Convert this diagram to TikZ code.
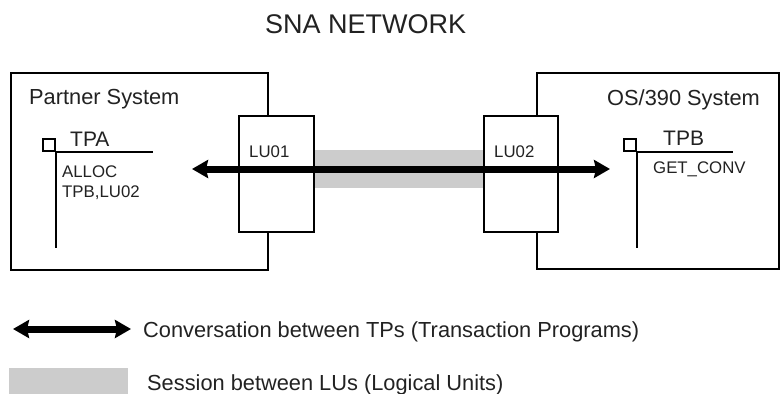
\documentclass[tikz,border=0pt]{standalone}
\usepackage{fontspec}
\setmainfont{Liberation Sans}
\usetikzlibrary{arrows.meta}
\definecolor{sessgray}{HTML}{CCCCCC}
\definecolor{txt}{HTML}{222222}
\begin{document}
\begin{tikzpicture}[x=1pt,y=-1pt,
  sysbox/.style={draw, line width=2pt, inner sep=0, anchor=north west, fill=white},
  lubox/.style={draw, line width=2pt, inner sep=0, anchor=north west, fill=white},
  lbl/.style={inner sep=0, anchor=base west, text=txt},
  big/.style={font=\fontsize{21.8}{24}\selectfont},
  small/.style={font=\fontsize{16.8}{18}\selectfont},
  tpline/.style={line width=2pt},
  conv/.style={line width=7pt, {Stealth[length=16pt,width=18pt,inset=2pt]}-{Stealth[length=16pt,width=18pt,inset=2pt]}},
  sess/.style={fill=sessgray}
]
\useasboundingbox (0,0) rectangle (780,394);

% title
\node[lbl, font=\fontsize{27}{30}\selectfont] (title) at (265,33) {SNA NETWORK};

% system boxes
\node[sysbox, minimum width=257pt, minimum height=197pt] (partner) at (10,72) {};
\node[sysbox, minimum width=242pt, minimum height=196pt] (os) at (536,72) {};

% session band
\fill[sess] (313,150) rectangle (483,188);

% LU boxes
\node[lubox, minimum width=75pt, minimum height=116pt] (lu01) at (238,115) {};
\node[lubox, minimum width=74pt, minimum height=116pt] (lu02) at (483,115) {};

% conversation arrow
\coordinate (tipL) at (192,169);
\coordinate (tipR) at (610,169);
\draw[conv] (tipL) -- (tipR);

% labels
\node[lbl, big] (pslbl) at (29,104) {Partner System};
\node[lbl, big] (oslbl) at (607,105) {OS/390 System};
\node[lbl, small] (lu01lbl) at (249,157) {LU01};
\node[lbl, small] (lu02lbl) at (494,157) {LU02};

% TPA
\node[draw, line width=2pt, inner sep=0, minimum size=12pt, anchor=south east] (tpasq) at (56,152) {};
\coordinate (tpaC) at (56,152);
\coordinate (tpaH) at (153,152);
\coordinate (tpaV) at (56,248);
\draw[tpline] (tpaC) -- (tpaH);
\draw[tpline] (tpaC) -- (tpaV);
\node[lbl, font=\fontsize{21}{24}\selectfont] (tpa) at (70,146) {TPA};
\node[lbl, small] (alloc) at (62,177) {ALLOC};
\node[lbl, small] (tpblu) at (62,197) {TPB,LU02};

% TPB
\node[draw, line width=2pt, inner sep=0, minimum size=12pt, anchor=south east] (tpbsq) at (637,152) {};
\coordinate (tpbC) at (637,152);
\coordinate (tpbH) at (733,152);
\coordinate (tpbV) at (637,248);
\draw[tpline] (tpbC) -- (tpbH);
\draw[tpline] (tpbC) -- (tpbV);
\node[lbl, font=\fontsize{21}{24}\selectfont] (tpb) at (663,145) {TPB};
\node[lbl, small] (getconv) at (653,173) {GET\_CONV};

% legend
\coordinate (legL) at (13,329);
\coordinate (legR) at (131,329);
\draw[conv] (legL) -- (legR);
\node[lbl, big] (convlbl) at (143,337) {Conversation between TPs (Transaction Programs)};
\fill[sess] (9,368) rectangle (128,394);
\node[lbl, big] (sesslbl) at (147,390) {Session between LUs (Logical Units)};
\end{tikzpicture}
\end{document}
